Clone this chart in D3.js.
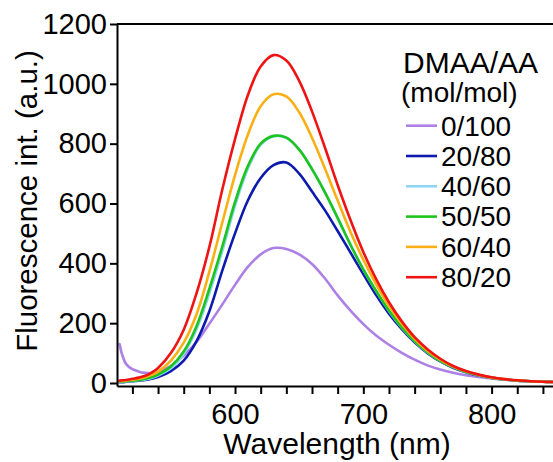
<!DOCTYPE html>
<html>
<head>
<meta charset="utf-8">
<script src="https://cdn.jsdelivr.net/npm/d3@7"></script>
<style>
  html, body { margin: 0; padding: 0; background: #ffffff; }
  svg { display: block; font-family: "Liberation Sans", Arial, Helvetica, sans-serif; }
</style>
</head>
<body>
<svg id="chart" width="553" height="462"></svg>
<script>
// Emission wavelengths (nm)
const wavelengths = [510, 512, 515, 520, 525, 530, 535, 540, 550, 560, 570, 580, 590, 600,
  610, 620, 630, 640, 650, 660, 670, 680, 690, 700, 710, 720, 730, 740, 750, 760,
  770, 780, 790, 800, 810, 820, 830, 840, 850];

// Fluorescence intensity (a.u.) for each DMAA/AA ratio
const ratio0_100 = [130, 95, 64, 46, 38, 34, 33, 36, 57, 92, 137, 198, 262, 328,
  388, 430, 451, 448, 430, 398, 350, 293, 242, 197, 159, 128, 101, 78, 59, 45,
  34, 26, 20, 15, 11, 8, 6, 5, 4];
const ratio20_80 = [3, 3, 4, 6, 8, 10, 14, 20, 40, 75, 140, 240, 375, 500,
  610, 685, 728, 737, 700, 640, 578, 508, 436, 364, 294, 232, 180, 136, 100, 72,
  51, 36, 25, 17, 12, 8, 6, 4, 3];
const ratio40_60 = [4, 4, 5, 7, 9, 12, 17, 25, 49, 98, 180, 300, 440, 592,
  716, 796, 824, 820, 781, 716, 638, 551, 461, 379, 307, 241, 185, 139, 102, 74,
  53, 37, 26, 18, 12, 8, 6, 4, 3];
const ratio50_50 = [4, 5, 6, 8, 10, 14, 20, 28, 55, 105, 190, 315, 455, 605,
  725, 800, 826, 820, 780, 715, 638, 552, 462, 380, 308, 242, 186, 140, 103, 74,
  53, 37, 26, 18, 12, 8, 6, 4, 3];
const ratio60_40 = [6, 7, 8, 11, 14, 19, 27, 38, 75, 135, 230, 372, 535, 695,
  830, 925, 965, 958, 905, 820, 718, 610, 505, 412, 330, 258, 198, 148, 108, 78,
  55, 39, 27, 18, 13, 9, 6, 4, 3];
const ratio80_20 = [8, 9, 10, 14, 18, 24, 35, 50, 100, 178, 300, 455, 645, 815,
  962, 1058, 1096, 1078, 1010, 908, 788, 662, 545, 438, 347, 270, 206, 153, 113, 81,
  57, 40, 28, 19, 13, 9, 6, 4, 3];

const seriesNames = ["0/100", "20/80", "40/60", "50/50", "60/40", "80/20"];
const seriesValues = [ratio0_100, ratio20_80, ratio40_60, ratio50_50, ratio60_40, ratio80_20];
const seriesColors = ["#ad80e6", "#0d1aae", "#8fd6f6", "#1ec41e", "#f8b014", "#ee1414"];

const yTickValues = [0, 200, 400, 600, 800, 1000, 1200];
const xTickValues = d3.range(520, 841, 20);
const xTickLabels = [600, 700, 800];

const svg = d3.select("#chart");

const x = d3.scaleLinear().domain([508, 850]).range([117, 555.75]);
const y = d3.scaleLinear().domain([-10, 1200]).range([386, 24]);

// Plot frame top edge
svg.append("line")
  .attr("x1", x.range()[0]).attr("x2", 553)
  .attr("y1", y(1200)).attr("y2", y(1200))
  .attr("stroke", "#000").attr("stroke-width", 2);

// Spectra
const line = d3.line()
  .x((d, i) => x(wavelengths[i]))
  .y(d => y(d))
  .curve(d3.curveCatmullRom.alpha(0.5));

svg.append("g")
  .selectAll("path")
  .data(seriesValues)
  .join("path")
  .attr("d", d => line(d))
  .attr("fill", "none")
  .attr("stroke", (d, i) => seriesColors[i])
  .attr("stroke-width", 2.6)
  .attr("stroke-linejoin", "round")
  .attr("stroke-linecap", "round");

// Axes
const yAxis = d3.axisLeft(y)
  .tickValues(yTickValues)
  .tickSize(7)
  .tickSizeOuter(0)
  .tickPadding(3)
  .tickFormat(d3.format("d"));

const xAxis = d3.axisBottom(x)
  .tickValues(xTickValues)
  .tickSize(8)
  .tickSizeOuter(0)
  .tickPadding(9)
  .tickFormat(d => xTickLabels.includes(d) ? String(d) : "");

const gy = svg.append("g").attr("transform", `translate(${x.range()[0]},0)`).call(yAxis);
const gx = svg.append("g").attr("transform", `translate(0,${y(-10)})`).call(xAxis);

[gx, gy].forEach(g => {
  g.select(".domain").attr("stroke", "#000").attr("stroke-width", 2);
  g.selectAll(".tick line").attr("stroke", "#000").attr("stroke-width", 2);
  g.selectAll(".tick text")
    .attr("fill", "#000")
    .style("font-family", "'Liberation Sans', Arial, sans-serif")
    .style("font-size", "29px");
});

// Axis titles
svg.append("text")
  .attr("x", 337).attr("y", 454)
  .attr("text-anchor", "middle")
  .style("font-size", "30px")
  .text("Wavelength (nm)");

svg.append("text")
  .attr("transform", "translate(37,201) rotate(-90)")
  .attr("text-anchor", "middle")
  .style("font-size", "29.5px")
  .text("Fluorescence int. (a.u.)");

// Legend
const legend = svg.append("g");
legend.append("text")
  .attr("x", 403).attr("y", 73)
  .style("font-size", "30px")
  .text("DMAA/AA");
legend.append("text")
  .attr("x", 401).attr("y", 102)
  .style("font-size", "28px")
  .text("(mol/mol)");

const rows = legend.selectAll("g.row")
  .data(seriesNames)
  .join("g")
  .attr("class", "row")
  .attr("transform", (d, i) => `translate(0,${125.7 + i * 30.3})`);

rows.append("line")
  .attr("x1", 406).attr("x2", 437)
  .attr("y1", 0).attr("y2", 0)
  .attr("stroke", (d, i) => seriesColors[i])
  .attr("stroke-width", 2.6);

rows.append("text")
  .attr("x", 441).attr("y", 0).attr("dy", "0.35em")
  .style("font-size", "28px")
  .text(d => d);
</script>
</body>
</html>
